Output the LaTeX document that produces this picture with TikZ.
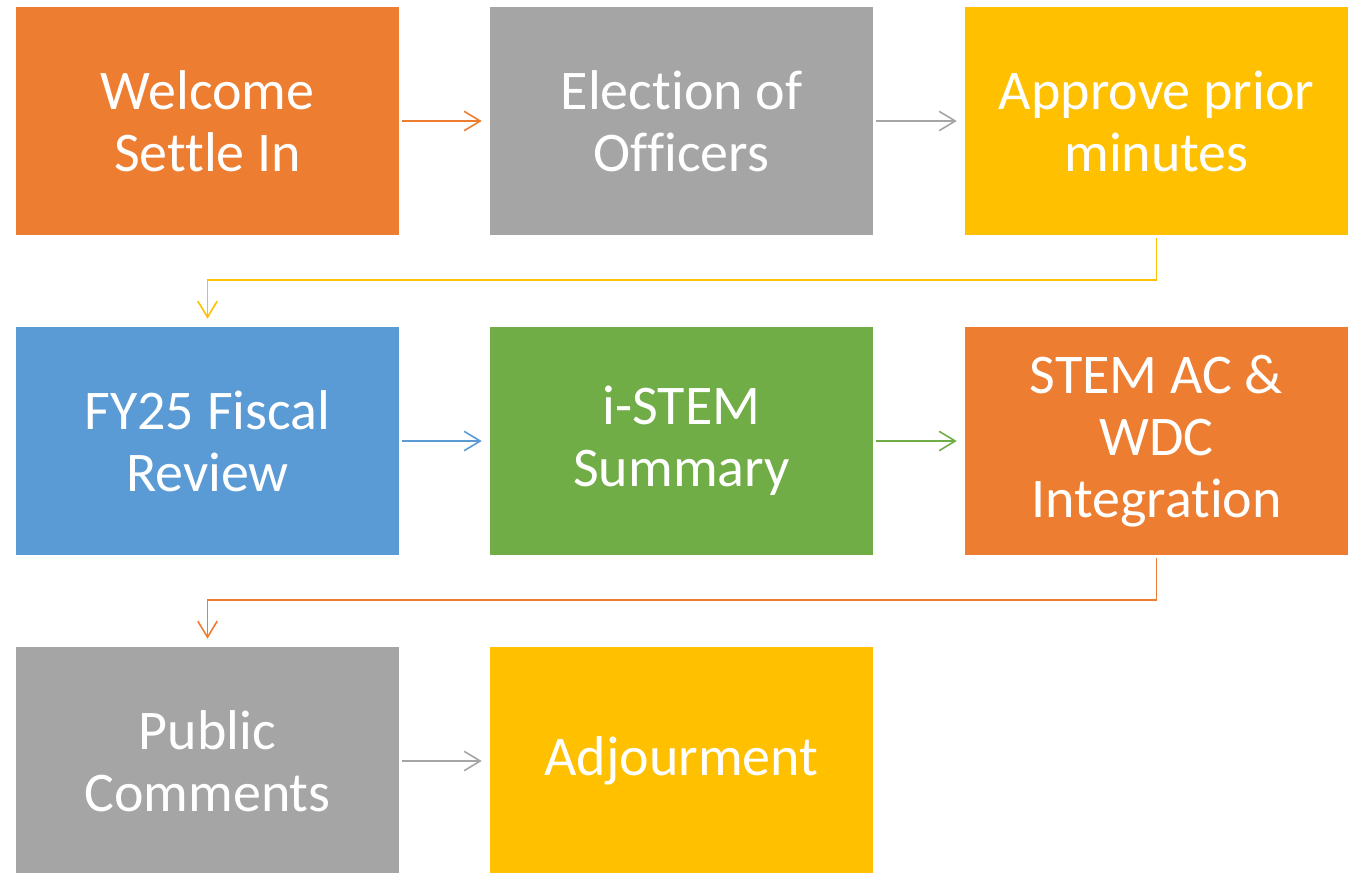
\documentclass[tikz,border=0pt]{standalone}
\usepackage{fontspec}
\setmainfont{Carlito}[RawFeature={-liga;-clig;-calt}]
\usepackage{tikz}
\usetikzlibrary{arrows.meta}

\definecolor{offorange}{HTML}{ED7D31}
\definecolor{offgray}{HTML}{A5A5A5}
\definecolor{offgold}{HTML}{FFC000}
\definecolor{offblue}{HTML}{5B9BD5}
\definecolor{offgreen}{HTML}{70AD47}

\begin{document}
\begin{tikzpicture}
		[x=0.75pt,y=-0.75pt,
		every node/.style={rectangle,inner sep=0pt,minimum width=287.25pt,minimum height=171pt,text=white,align=center,font=\fontsize{42}{46.5}\selectfont},
		edge/.style={-{Straight Barb[length=12pt,width=14.5pt]},line width=1.2pt,shorten <=2.25pt,shorten >=6pt}]
		\useasboundingbox (0,0) rectangle (1358,872);
		\node[fill=offorange] (welcome) at (207.5,121)  {Welcome\\Settle In};
		\node[fill=offgray] (election) at (681.5,121)  {Election of\\Officers};
		\node[fill=offgold] (approve) at (1156.5,121) {Approve prior\\minutes};
		\node[fill=offblue] (fiscal) at (207.5,441)  {FY25 Fiscal\\Review};
		\node[fill=offgreen] (istem) at (681.5,441)  {i-STEM\\Summary};
		\node[fill=offorange] (stem) at (1156.5,441) {STEM AC \&\\WDC\\Integration};
		\node[fill=offgray] (public) at (207.5,761)  {Public\\Comments};
		\node[fill=offgold] (adjourn) at (681.5,761)  {Adjourment};
		
		\foreach \from/\to/\col in {welcome/election/offorange,election/approve/offgray,fiscal/istem/offblue,istem/stem/offgreen,public/adjourn/offgray}
		\draw[edge,\col] (\from) -- (\to);
		\foreach \from/\to/\col in {approve/fiscal/offgold,stem/public/offorange}
		\draw[edge,\col] (\from.south) -- ++(0,45) -| (\to.north);
		\end{tikzpicture}
\end{document}
